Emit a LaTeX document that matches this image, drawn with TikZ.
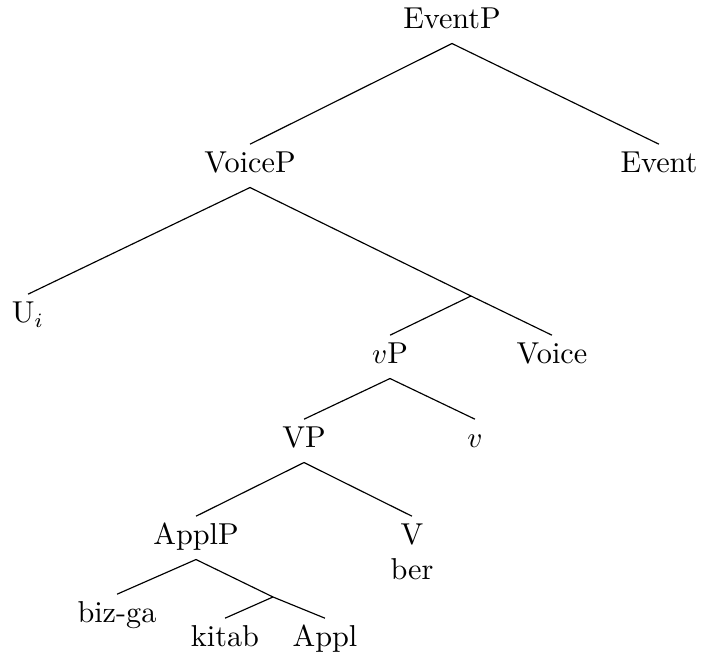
\documentclass[tikz,border=0pt]{standalone}
\usepackage{fontspec}
\begin{document}
\begin{tikzpicture}[x=0.344pt,y=-0.344pt,
  lab/.style={anchor=base,inner xsep=1pt,inner ysep=2.5pt,text height=7.2pt,text depth=2.3pt,font=\fontsize{10.4}{12.5}\selectfont},
  edge/.style={line width=0.4pt}]
\useasboundingbox (0,0) rectangle (701,655);
\node[lab] (EventP) at (452,29) {EventP};
\node[lab] (VoiceP) at (250,173) {VoiceP};
\node[lab] (Event) at (659,173) {Event};
\node[lab] (Ui) at (28,323) {U$_i$};
\coordinate (bar1) at (471,296);
\node[lab] (vP) at (390,364) {$v$P};
\node[lab] (Voice) at (552,364) {Voice};
\node[lab] (VP) at (304,448) {VP};
\node[lab] (v) at (475,448) {$v$};
\node[lab] (ApplP) at (196,545) {ApplP};
\node[lab] (V) at (412,545) {V};
\node[lab] (ber) at (412,580) {ber};
\node[lab] (bizga) at (117,623) {biz-ga};
\coordinate (bar2) at (273,597);
\node[lab] (kitab) at (225,647) {kitab};
\node[lab] (Appl) at (325,647) {Appl};
\draw[edge] (VoiceP.north) -- (EventP.south) -- (Event.north);
\draw[edge] (Ui.north) -- (VoiceP.south) -- (bar1) -- (Voice.north);
\draw[edge] (bar1) -- (vP.north);
\draw[edge] (VP.north) -- (vP.south) -- (v.north);
\draw[edge] (ApplP.north) -- (VP.south) -- (V.north);
\draw[edge] (bizga.north) -- (ApplP.south) -- (bar2) -- (Appl.north);
\draw[edge] (bar2) -- (kitab.north);
\end{tikzpicture}
\end{document}
